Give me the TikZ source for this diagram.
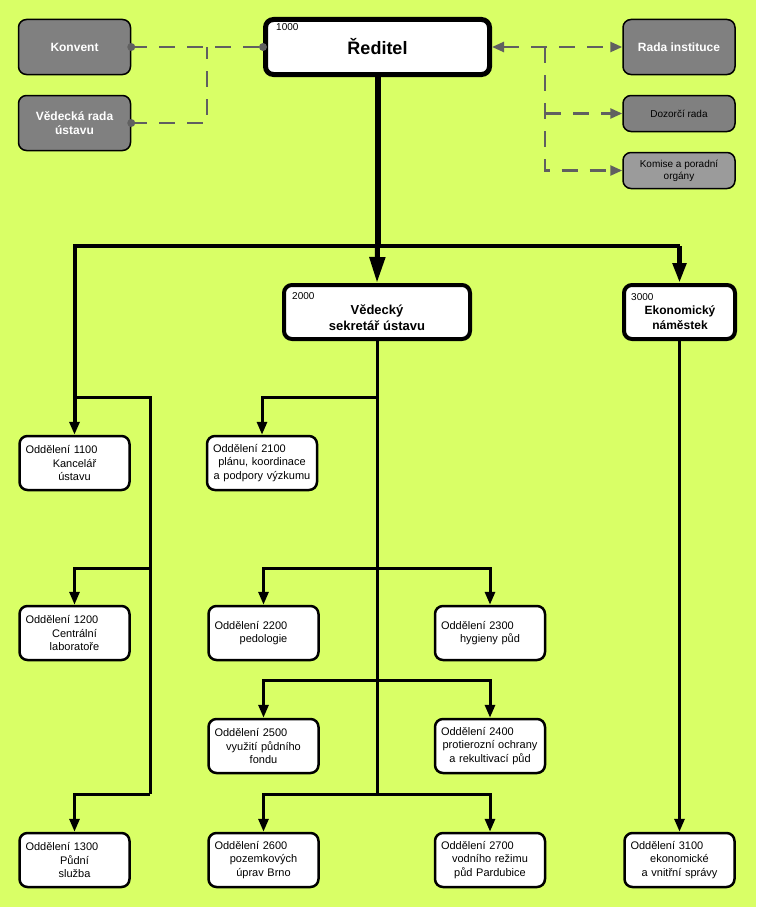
\documentclass[tikz,border=0pt]{standalone}
\usepackage{fontspec}
\setmainfont{Liberation Sans}
\usetikzlibrary{arrows.meta}

\definecolor{bgcol}{RGB}{217,255,102}
\definecolor{boxgray}{RGB}{128,128,128}
\definecolor{palegray}{RGB}{155,155,155}
\definecolor{dashgray}{RGB}{96,96,96}

\tikzset{
  topbox/.style={draw, fill=white, line width=5pt, rounded corners=8pt,
    minimum width=224pt, minimum height=55pt,
    font=\fontsize{18}{20}\selectfont\bfseries},
  midbox/.style={draw, fill=white, line width=4pt, rounded corners=8pt,
    minimum height=54pt},
  midtext/.style={align=center, inner sep=0pt},
  dept/.style={draw, fill=white, line width=2.5pt, rounded corners=8pt,
    minimum width=110pt, minimum height=54pt, text width=98pt,
    inner xsep=6pt, align=center, font=\fontsize{11}{13.5}\selectfont},
  graybox/.style={draw, fill=boxgray, line width=1.5pt, rounded corners=8pt,
    minimum width=112pt, minimum height=55pt, align=center},
  smallgray/.style={graybox, minimum height=36pt,
    font=\fontsize{10}{12}\selectfont},
  whitebold/.style={text=white, font=\fontsize{12}{14}\selectfont\bfseries},
  numlbl/.style={anchor=base west, inner sep=0pt,
    font=\fontsize{10}{12}\selectfont},
  wire/.style={line width=3pt},
  conn/.style={line width=3pt, -{Triangle[length=13pt,width=10pt]}},
  bigarrow/.style={line width=5pt, -{Triangle[length=26pt,width=15pt]}},
  dashln/.style={dashgray, line width=2.5pt, dash pattern=on 16pt off 12pt},
  dasharr/.style={dashln, -{Triangle[length=12pt,width=10pt]}}
}

\newcommand{\oddel}[1]{\makebox[\hsize][l]{Oddělení #1}}

\begin{document}
\begin{tikzpicture}[x=1pt,y=-1pt]
  % Background
  \fill[bgcol] (0,0) rectangle (756,907);

  % Director and side bodies
  \node[topbox] (reditel) at (377.5,47) {Ředitel};
  \node[numlbl] (n1000) at (276,31) {1000};

  \node[graybox, whitebold] (konvent) at (74.5,47) {Konvent};
  \node[graybox, whitebold] (vrada) at (74.5,123) {Vědecká rada\\ústavu};

  \node[graybox, whitebold] (rada) at (679,47) {Rada instituce};
  \node[smallgray] (dozor) at (679,113.5) {Dozorčí rada};
  \node[smallgray, fill=palegray] (komise) at (679,170.5) {Komise a poradní\\orgány};

  % Deputies
  \node[midbox, minimum width=186pt] (sekr) at (377,312) {};
  \node[numlbl] (n2000) at (292,299) {2000};
  \node[midtext, font=\fontsize{13}{16}\selectfont\bfseries] (sekrt) at (377,318) {Vědecký\\sekretář ústavu};

  \node[midbox, minimum width=111pt] (eko) at (679.5,312) {};
  \node[numlbl] (n3000) at (631,300) {3000};
  \node[midtext, font=\fontsize{12}{15}\selectfont\bfseries] (ekot) at (680,318) {Ekonomický\\náměstek};

  % Departments
  \node[dept] (d1100) at (74.5,463) {\oddel{1100}\\Kancelář\\ústavu};
  \node[dept] (d1200) at (74.5,633) {\oddel{1200}\\Centrální\\laboratoře};
  \node[dept] (d1300) at (74.5,860) {\oddel{1300}\\Půdní\\služba};

  \node[dept] (d2100) at (262,463) {\oddel{2100}\\plánu, koordinace\\a podpory výzkumu};
  \node[dept] (d2200) at (263.5,633) {\oddel{2200}\\pedologie};
  \node[dept] (d2500) at (263.5,746) {\oddel{2500}\\využití půdního\\fondu};
  \node[dept] (d2600) at (263.5,860) {\oddel{2600}\\pozemkových\\úprav Brno};

  \node[dept] (d2300) at (490,633) {\oddel{2300}\\hygieny půd};
  \node[dept] (d2400) at (490,746) {\oddel{2400}\\protierozní ochrany\\a rekultivací půd};
  \node[dept] (d2700) at (490,860) {\oddel{2700}\\vodního režimu\\půd Pardubice};

  \node[dept] (d3100) at (679.5,860) {\oddel{3100}\\ekonomické\\a vnitřní správy};

  % Dashed links to the side bodies
  \coordinate (jl) at (207,47);
  \coordinate (jr) at (545,47);
  \coordinate (jd) at (545,113.5);
  \draw[dashln] (konvent.east) -- (reditel.west);
  \draw[dashln] (vrada.east) -| (jl);
  \fill[dashgray] (konvent.east) circle (4pt);
  \fill[dashgray] (vrada.east) circle (4pt);
  \fill[dashgray] (reditel.west) circle (4pt);
  \draw[dashln, {Triangle[length=12pt,width=10pt]}-{Triangle[length=12pt,width=10pt]}] (reditel.east) -- (rada.west);
  \draw[dasharr] (jr) |- (komise.west);
  \draw[dasharr] (jd) -- (dozor.west);

  % Main trunk
  \coordinate (bus) at (377.5,246);
  \coordinate (busR) at (679.5,246);
  \draw[line width=6pt] (reditel.south) -- (bus);
  \draw[line width=4pt] (bus) -- (busR);
  \draw[bigarrow] (bus) -- (sekr.north);
  \draw[bigarrow, -{Triangle[length=20pt,width=13pt]}] (busR) -- (eko.north);
  \draw[conn, line width=4pt] (bus) -| (d1100.north);

  % Left column
  \coordinate (lA) at (74.5,397);
  \coordinate (lC) at (150,568);
  \coordinate (lB) at (150,794);
  \draw[wire] (lA) -| (lB);
  \draw[conn] (lC) -| (d1200.north);
  \draw[conn] (lB) -| (d1300.north);

  % Middle column
  \coordinate (m1) at (377,397);
  \coordinate (m2) at (377,568);
  \coordinate (m3) at (377,680);
  \coordinate (mbot) at (377,794);
  \draw[wire] (sekr.south) -- (mbot);
  \draw[conn] (m1) -| (d2100.north);
  \draw[conn] (m2) -| (d2200.north);
  \draw[conn] (m2) -| (d2300.north);
  \draw[conn] (m3) -| (d2500.north);
  \draw[conn] (m3) -| (d2400.north);
  \draw[conn] (mbot) -| (d2600.north);
  \draw[conn] (mbot) -| (d2700.north);

  % Right column
  \draw[conn] (eko.south) -- (d3100.north);
\end{tikzpicture}
\end{document}
